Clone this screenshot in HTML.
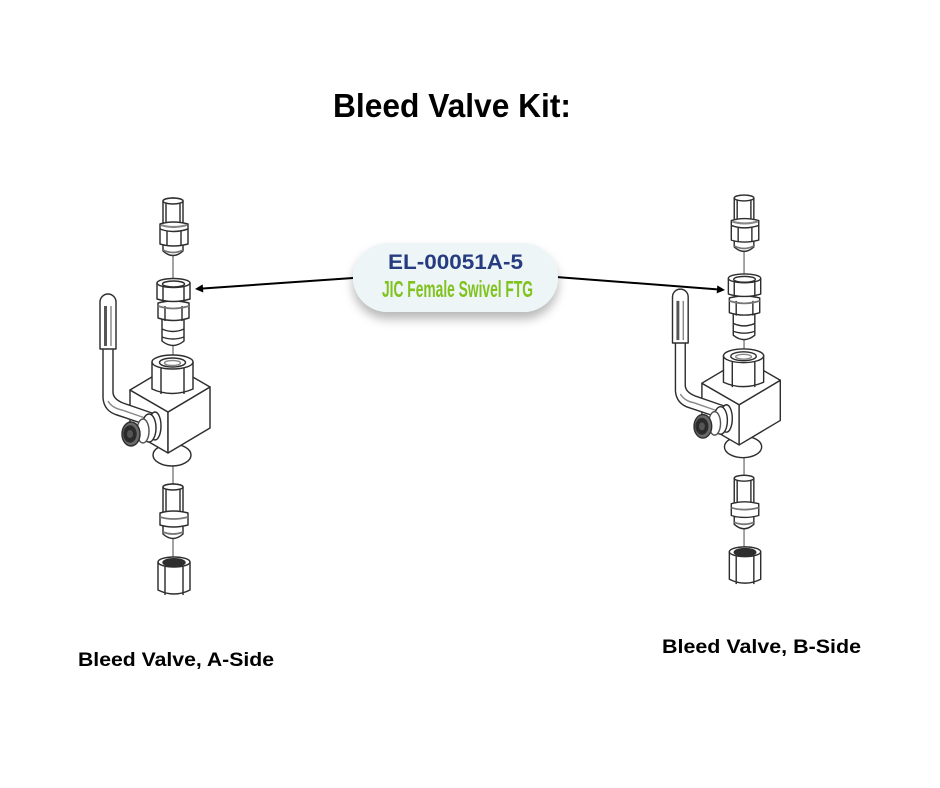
<!DOCTYPE html>
<html>
<head>
<meta charset="utf-8">
<style>
  html,body{margin:0;padding:0;background:#fff;}
  svg{display:block;}
</style>
</head>
<body>
<svg width="940" height="788" viewBox="0 0 940 788" xmlns="http://www.w3.org/2000/svg">
  <defs>
    <filter id="sh" x="-20%" y="-30%" width="140%" height="180%">
      <feDropShadow dx="0" dy="7" stdDeviation="5" flood-color="#000" flood-opacity="0.28"/>
    </filter>
    <g id="valve" stroke="#2e2e2e" stroke-width="1.45" fill="#fff" stroke-linejoin="round">
      <!-- connector lines -->
      <g stroke="#666" stroke-width="1.2">
        <line x1="173" y1="256" x2="173" y2="281"/>
        <line x1="173" y1="346" x2="173" y2="356"/>
        <line x1="173" y1="465" x2="173" y2="487"/>
        <line x1="173" y1="539" x2="173" y2="559"/>
      </g>
      <!-- top fitting -->
      <path d="M163,201 A10,3 0 0 1 183,201 L183,224 L163,224 Z"/>
      <ellipse cx="173" cy="201" rx="10" ry="3"/>
      <line x1="166" y1="203" x2="166" y2="223"/>
      <line x1="180" y1="203" x2="180" y2="223"/>
      <path d="M163,245 L163,251 Q173,260 183,251 L183,245 Z"/>
      <path d="M160,224 Q173,220 188,224 L188,244 Q173,248 160,244 Z"/>
      <path d="M160,229 Q173,234 188,229" fill="none"/>
      <path d="M161,225 Q173,229 187,225" fill="none" stroke="#888" stroke-width="2.2"/>
      <line x1="167" y1="231" x2="167" y2="246"/>
      <line x1="181" y1="231" x2="181" y2="246"/>
      <path d="M163,250 Q173,255 183,250" fill="none" stroke="#777" stroke-width="1.8"/>

      <!-- swivel fitting -->
      <path d="M162,319 L162,341 Q173,350 184,341 L184,319 Z"/>
      <path d="M162,329 Q173,334 184,329" fill="none"/>
      <path d="M162,337 Q173,341 184,337" fill="none"/>
      <path d="M158,303 Q173,299 189,303 L189,318 Q173,323 158,318 Z"/>
      <line x1="165" y1="306" x2="165" y2="321"/>
      <line x1="182" y1="306" x2="182" y2="321"/>
      <path d="M158,306 Q173,311 189,306" fill="none" stroke="#777" stroke-width="1.8"/>
      <path d="M157,283 L157,299 Q173,304 190,299 L190,283 Z"/>
      <ellipse cx="173.5" cy="283" rx="16.5" ry="4.5"/>
      <ellipse cx="173.5" cy="284" rx="11" ry="3"/>
      <line x1="163" y1="287" x2="163" y2="302"/>
      <line x1="184" y1="287" x2="184" y2="302"/>

      <!-- boss under body -->
      <ellipse cx="172" cy="455" rx="19" ry="11"/>
      <!-- cube body -->
      <polygon points="130,390 168,412 168,453 130,431"/>
      <polygon points="168,412 210,387 210,428 168,453"/>
      <polygon points="130,390 172,365 210,387 168,412"/>

      <!-- hex port on top -->
      <path d="M152,362 L152,389 Q172,398 193,389 L193,362 Z"/>
      <ellipse cx="172.5" cy="362" rx="20.5" ry="7"/>
      <ellipse cx="172.5" cy="362.5" rx="13" ry="4.5"/>
      <ellipse cx="172.5" cy="363" rx="8" ry="2.5" stroke="#888"/>
      <line x1="161" y1="368" x2="161" y2="394"/>
      <line x1="184" y1="368" x2="184" y2="394"/>

      <!-- handle -->
      <path d="M103,345 L103,398 Q104,411 117,415 L147,425 L152,413 L123,403 Q113,399 113,392 L113,345 Z"/>
      <path d="M108,401 Q112,408 122,410 L148,419" fill="none" stroke="#888"/>
      <path d="M100,302 A8,8 0 0 1 116,302 L116,349 L100,349 Z"/>
      <rect x="104" y="306" width="3" height="40" fill="#555" stroke="none"/>
      <line x1="111" y1="306" x2="111" y2="346" stroke="#888"/>

      <!-- washers + knob -->
      <ellipse cx="155" cy="426" rx="6" ry="14"/>
      <ellipse cx="149" cy="428" rx="7" ry="14"/>
      <ellipse cx="143" cy="431" rx="6" ry="12" stroke="#555"/>
      <ellipse cx="131" cy="434" rx="9" ry="12" fill="#6a6a6a"/>
      <ellipse cx="130" cy="434" rx="6" ry="8" fill="#2a2a2a"/>
      <ellipse cx="130" cy="434" rx="3" ry="4" fill="#555" stroke="none"/>

      <!-- lower fitting -->
      <path d="M163,526 L163,534 Q173,543 183,534 L183,526 Z"/>
      <path d="M163,487 A10,3 0 0 1 183,487 L183,513 L163,513 Z"/>
      <ellipse cx="173" cy="487" rx="10" ry="3"/>
      <line x1="166" y1="489" x2="166" y2="512"/>
      <line x1="180" y1="489" x2="180" y2="512"/>
      <path d="M160,513 Q173,509 188,513 L188,525 Q173,529 160,525 Z"/>
      <path d="M160,517 Q173,521 188,517" fill="none" stroke="#777" stroke-width="1.8"/>
      <path d="M163,532 Q173,536 183,532" fill="none" stroke="#777" stroke-width="1.8"/>

      <!-- nut -->
      <path d="M158,562 L158,590 Q174,598 190,590 L190,562 Z"/>
      <ellipse cx="174" cy="562" rx="16" ry="5"/>
      <ellipse cx="174" cy="562.5" rx="11" ry="3.8" fill="#2e2e2e"/>
      <line x1="165" y1="566" x2="165" y2="595"/>
      <line x1="183" y1="566" x2="183" y2="595"/>
    </g>
  </defs>

  <rect width="940" height="788" fill="#fff"/>

  <!-- Title -->
  <text x="333" y="117" font-family="Liberation Sans, sans-serif" font-weight="bold" font-size="33" fill="#000" textLength="238" lengthAdjust="spacingAndGlyphs">Bleed Valve Kit:</text>

  <!-- Valves -->
  <use href="#valve"/>
  <use href="#valve" transform="translate(574.5,1) scale(0.98)"/>

  <!-- Arrows -->
  <line x1="353" y1="278" x2="201" y2="288.6" stroke="#000" stroke-width="2"/>
  <polygon points="195,289 203.3,292.5 202.7,284.4" fill="#000"/>
  <line x1="556" y1="277" x2="719" y2="289.5" stroke="#000" stroke-width="2"/>
  <polygon points="725,290 716.7,293.4 717.3,285.4" fill="#000"/>

  <!-- Pill label -->
  <rect x="353" y="243" width="205" height="69" rx="34.5" ry="34.5" fill="#edf5f6" filter="url(#sh)"/>
  <text x="388" y="269" font-family="Liberation Sans, sans-serif" font-weight="bold" font-size="21" fill="#273c80" textLength="135" lengthAdjust="spacingAndGlyphs">EL-00051A-5</text>
  <text x="382" y="297" font-family="Liberation Sans Narrow, Liberation Sans, sans-serif" font-weight="bold" font-size="23" fill="#80c21e" textLength="151" lengthAdjust="spacingAndGlyphs">JIC Female Swivel FTG</text>

  <!-- Side labels -->
  <text x="78" y="666" font-family="Liberation Sans, sans-serif" font-weight="bold" font-size="19.5" fill="#000" textLength="196" lengthAdjust="spacingAndGlyphs">Bleed Valve, A-Side</text>
  <text x="662" y="653" font-family="Liberation Sans, sans-serif" font-weight="bold" font-size="19.5" fill="#000" textLength="199" lengthAdjust="spacingAndGlyphs">Bleed Valve, B-Side</text>
</svg>
</body>
</html>
